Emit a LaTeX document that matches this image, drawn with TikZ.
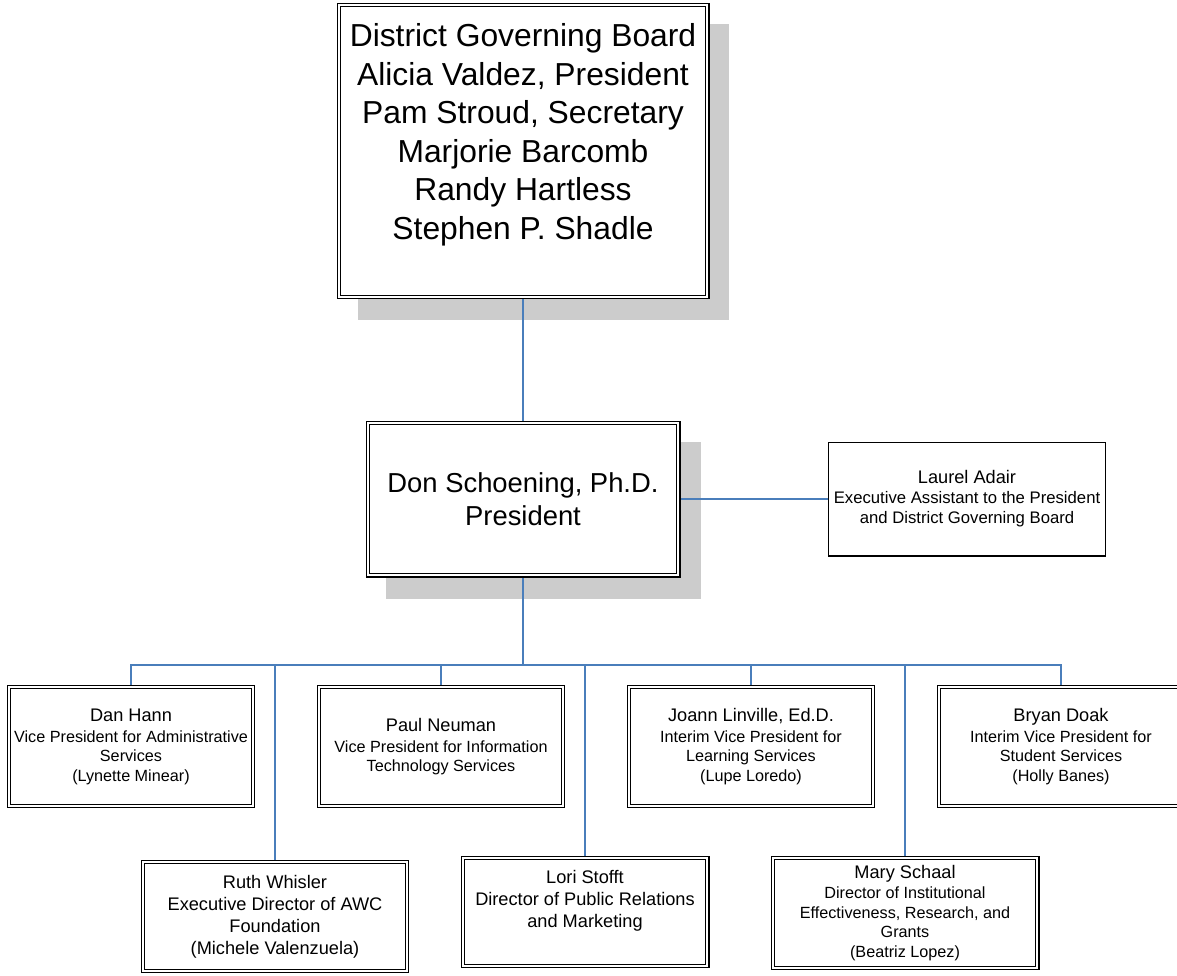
\documentclass[tikz,border=0pt]{standalone}
\usepackage{fontspec}
\setmainfont{Liberation Sans}
\usetikzlibrary{calc,backgrounds}
\definecolor{linkblue}{HTML}{4A7EBB}
\definecolor{shadowgray}{HTML}{CCCCCC}
\newcommand{\boardsize}{\fontsize{31.8}{38.6}\selectfont}
\newcommand{\presize}{\fontsize{27.4}{33}\selectfont}
\newcommand{\namesize}{\fontsize{18.2}{22}\selectfont}
\newcommand{\rolesize}{\fontsize{16.2}{19.5}\selectfont}
\pgfdeclarelayer{shadowlayer}
\pgfsetlayers{shadowlayer,background,main}
\begin{document}
\begin{tikzpicture}[x=1pt,y=-1pt,
  dbox/.style={draw=black, double=white, double distance=1.8pt, line width=1.3pt,
    fill=white, inner sep=0pt, outer sep=0pt, align=center},
  sbox/.style={draw=black, line width=1.3pt, fill=white, inner sep=0pt,
    outer sep=0pt, align=center},
  vpbox/.style={dbox, minimum width=243.6pt, minimum height=118.6pt, font=\rolesize},
  conn/.style={draw=linkblue, line width=1.6pt},
  shadowrect/.style={fill=shadowgray}]
\useasboundingbox (0,0) rectangle (1177,975);

% governing board and president
\node[dbox, minimum width=368.6pt, minimum height=291.6pt, font=\boardsize] (board) at (523,151)
  {District Governing Board\\ Alicia Valdez, President\\ Pam Stroud, Secretary\\
   Marjorie Barcomb\\ Randy Hartless\\ Stephen P. Shadle\\[-6pt] \vphantom{Ag}};
\node[dbox, minimum width=310.6pt, minimum height=152.6pt, font=\presize] (pres) at (523,499)
  {Don Schoening, Ph.D.\\ President};
\node[sbox, minimum width=276.7pt, minimum height=113.7pt, font=\fontsize{16.7}{20}\selectfont] (laurel) at (967,499)
  {{\namesize Laurel Adair}\\ Executive Assistant to the President\\ and District Governing Board};

% vice presidents
\node[vpbox] (dan) at (131,746.5)
  {{\namesize Dan Hann}\\[1.5pt] Vice President for Administrative\\ Services\\ (Lynette Minear)};
\node[vpbox] (paul) at (441,746.5)
  {{\namesize Paul Neuman}\\[1.5pt] Vice President for Information\\ Technology Services};
\node[vpbox] (joann) at (751,746.5)
  {{\namesize Joann Linville, Ed.D.}\\[1.5pt] Interim Vice President for\\ Learning Services\\ (Lupe Loredo)};
\node[vpbox] (bryan) at (1061,746.5)
  {{\namesize Bryan Doak}\\[1.5pt] Interim Vice President for\\ Student Services\\ (Holly Banes)};

% directors
\node[dbox, minimum width=263.6pt, minimum height=108.6pt, font=\namesize] (ruth) at (275,916.5)
  {Ruth Whisler\\ Executive Director of AWC\\ Foundation\\ (Michele Valenzuela)};
\node[dbox, minimum width=244.6pt, minimum height=107.6pt, font=\namesize] (lori) at (585,912)
  {Lori Stofft\\ Director of Public Relations\\ and Marketing\\ \vphantom{Ag}};
\node[dbox, minimum width=264.6pt, minimum height=109.6pt, font=\rolesize] (mary) at (905,913)
  {{\namesize Mary Schaal}\\[0.5pt] Director of Institutional\\ Effectiveness, Research, and\\ Grants\\ (Beatriz Lopez)};

% drop shadows
\begin{pgfonlayer}{shadowlayer}
  \fill[shadowrect] ($(board.north west)+(19,19)$) rectangle ($(board.south east)+(22,23)$);
  \fill[shadowrect] ($(pres.north west)+(18,19)$) rectangle ($(pres.south east)+(23,24)$);
\end{pgfonlayer}

% reporting lines
\begin{pgfonlayer}{background}
  \coordinate (bus) at (523,665);
  \draw[conn] (board.south) -- (pres.north);
  \draw[conn] (pres.east) -- (laurel.west);
  \draw[conn] (pres.south) -- (pres.south |- bus);
  \draw[conn] (dan.north) |- (bryan.north |- bus) -- (bryan.north);
  \foreach \n in {paul,joann,ruth,lori,mary}
    \draw[conn] (\n.north) -- (\n.north |- bus);
\end{pgfonlayer}
\end{tikzpicture}
\end{document}
